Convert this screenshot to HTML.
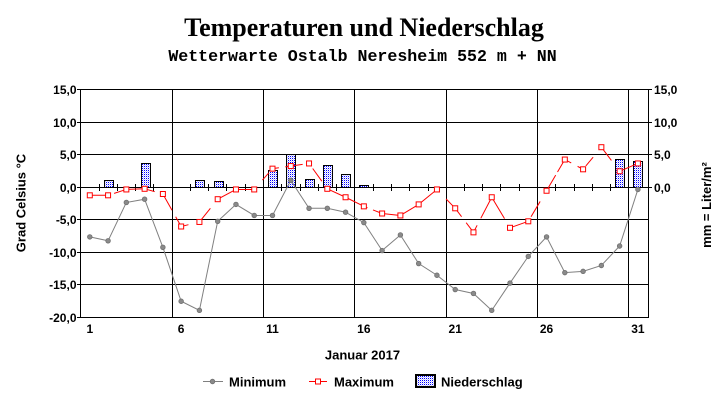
<!DOCTYPE html>
<html><head><meta charset="utf-8"><style>
html,body{margin:0;padding:0;background:#fff;width:727px;height:404px;overflow:hidden}
svg{display:block}
.t{font-family:"Liberation Sans",Arial,sans-serif;font-weight:bold;font-size:12px;fill:#000}
.l{font-family:"Liberation Sans",Arial,sans-serif;font-weight:bold;font-size:13px;fill:#000}
</style></head><body>
<svg width="727" height="404" viewBox="0 0 727 404" xmlns="http://www.w3.org/2000/svg">
<defs>
<pattern id="dots" x="0" y="0" width="2" height="2" patternUnits="userSpaceOnUse">
<rect width="2" height="2" fill="#fff"/><rect x="0" y="0" width="1" height="1" fill="#0000ff"/><rect x="1" y="1" width="1" height="1" fill="#c8c8ff"/>
</pattern>
</defs>
<rect width="727" height="404" fill="#fff"/>
<text x="364" y="36" text-anchor="middle" style="font-family:'Liberation Serif','Times New Roman',serif;font-weight:bold;font-size:26px">Temperaturen und Niederschlag</text>
<text x="362.5" y="61" text-anchor="middle" style="font-family:'Liberation Mono','Courier New',monospace;font-weight:bold;font-size:16.6px">Wetterwarte Ostalb Neresheim 552 m + NN</text>

<g stroke="#000" stroke-width="1" shape-rendering="crispEdges">
<line x1="77" y1="89.5" x2="648" y2="89.5"/>
<line x1="77" y1="122.5" x2="648" y2="122.5"/>
<line x1="77" y1="154.5" x2="648" y2="154.5"/>
<line x1="77" y1="187.5" x2="648" y2="187.5"/>
<line x1="77" y1="219.5" x2="648" y2="219.5"/>
<line x1="77" y1="252.5" x2="648" y2="252.5"/>
<line x1="77" y1="284.5" x2="648" y2="284.5"/>
<line x1="77" y1="317.5" x2="648" y2="317.5"/>
<line x1="648" y1="89.5" x2="652" y2="89.5"/>
<line x1="648" y1="122.5" x2="652" y2="122.5"/>
<line x1="648" y1="154.5" x2="652" y2="154.5"/>
<line x1="648" y1="187.5" x2="652" y2="187.5"/>
<line x1="80.5" y1="89" x2="80.5" y2="318"/>
<line x1="648.5" y1="89" x2="648.5" y2="318"/>
<line x1="172.5" y1="89" x2="172.5" y2="318"/>
<line x1="263.5" y1="89" x2="263.5" y2="318"/>
<line x1="354.5" y1="89" x2="354.5" y2="318"/>
<line x1="446.5" y1="89" x2="446.5" y2="318"/>
<line x1="537.5" y1="89" x2="537.5" y2="318"/>
<line x1="628.5" y1="89" x2="628.5" y2="318"/>
</g>
<g stroke="#000" stroke-width="1" shape-rendering="crispEdges">
<line x1="99.5" y1="184" x2="99.5" y2="191"/><line x1="117.5" y1="184" x2="117.5" y2="191"/><line x1="135.5" y1="184" x2="135.5" y2="191"/><line x1="153.5" y1="184" x2="153.5" y2="191"/>
<line x1="190.5" y1="184" x2="190.5" y2="191"/><line x1="208.5" y1="184" x2="208.5" y2="191"/><line x1="226.5" y1="184" x2="226.5" y2="191"/><line x1="245.5" y1="184" x2="245.5" y2="191"/>
<line x1="281.5" y1="184" x2="281.5" y2="191"/><line x1="300.5" y1="184" x2="300.5" y2="191"/><line x1="318.5" y1="184" x2="318.5" y2="191"/><line x1="336.5" y1="184" x2="336.5" y2="191"/>
<line x1="373.5" y1="184" x2="373.5" y2="191"/><line x1="391.5" y1="184" x2="391.5" y2="191"/><line x1="409.5" y1="184" x2="409.5" y2="191"/><line x1="428.5" y1="184" x2="428.5" y2="191"/>
<line x1="464.5" y1="184" x2="464.5" y2="191"/><line x1="482.5" y1="184" x2="482.5" y2="191"/><line x1="500.5" y1="184" x2="500.5" y2="191"/><line x1="519.5" y1="184" x2="519.5" y2="191"/>
<line x1="555.5" y1="184" x2="555.5" y2="191"/><line x1="574.5" y1="184" x2="574.5" y2="191"/><line x1="592.5" y1="184" x2="592.5" y2="191"/><line x1="610.5" y1="184" x2="610.5" y2="191"/>
</g>

<g fill="url(#dots)" stroke="#000" stroke-width="1" shape-rendering="crispEdges">
<rect x="104.5" y="180.5" width="9" height="7"/>
<rect x="141.5" y="163.5" width="9" height="24"/>
<rect x="195.5" y="180.5" width="9" height="7"/>
<rect x="214.5" y="181.5" width="9" height="6"/>
<rect x="268.5" y="170.5" width="9" height="17"/>
<rect x="286.5" y="154.5" width="9" height="33"/>
<rect x="305.5" y="179.5" width="9" height="8"/>
<rect x="323.5" y="165.5" width="9" height="22"/>
<rect x="341.5" y="174.5" width="9" height="13"/>
<rect x="359.5" y="185.5" width="9" height="2"/>
<rect x="615.5" y="159.5" width="9" height="28"/>
<rect x="633.5" y="161.5" width="9" height="26"/>
</g>

<polyline fill="none" stroke="#808080" stroke-width="1" points="89.8,236.9 108.07,240.8 126.34,202.45 144.61,199.2 162.88,247.3 181.15,301.25 199.42,310.35 217.69,221.3 235.96,204.4 254.23,215.45 272.5,215.45 290.77,180.35 309.04,208.3 327.31,208.3 345.58,212.2 363.85,222.6 382.12,250.55 400.39,234.95 418.66,263.55 436.93,275.25 455.2,289.55 473.47,293.45 491.74,310.35 510.01,283.05 528.28,256.4 546.55,236.9 564.82,272.65 583.09,271.35 601.36,265.5 619.63,246 637.9,189.45"/>
<g fill="#8a8a8a" stroke="#707070" stroke-width="0.8">
<circle cx="89.8" cy="236.9" r="2.3"/><circle cx="108.07" cy="240.8" r="2.3"/><circle cx="126.34" cy="202.45" r="2.3"/><circle cx="144.61" cy="199.2" r="2.3"/><circle cx="162.88" cy="247.3" r="2.3"/><circle cx="181.15" cy="301.25" r="2.3"/><circle cx="199.42" cy="310.35" r="2.3"/><circle cx="217.69" cy="221.3" r="2.3"/><circle cx="235.96" cy="204.4" r="2.3"/><circle cx="254.23" cy="215.45" r="2.3"/><circle cx="272.5" cy="215.45" r="2.3"/><circle cx="290.77" cy="180.35" r="2.3"/><circle cx="309.04" cy="208.3" r="2.3"/><circle cx="327.31" cy="208.3" r="2.3"/><circle cx="345.58" cy="212.2" r="2.3"/><circle cx="363.85" cy="222.6" r="2.3"/><circle cx="382.12" cy="250.55" r="2.3"/><circle cx="400.39" cy="234.95" r="2.3"/><circle cx="418.66" cy="263.55" r="2.3"/><circle cx="436.93" cy="275.25" r="2.3"/><circle cx="455.2" cy="289.55" r="2.3"/><circle cx="473.47" cy="293.45" r="2.3"/><circle cx="491.74" cy="310.35" r="2.3"/><circle cx="510.01" cy="283.05" r="2.3"/><circle cx="528.28" cy="256.4" r="2.3"/><circle cx="546.55" cy="236.9" r="2.3"/><circle cx="564.82" cy="272.65" r="2.3"/><circle cx="583.09" cy="271.35" r="2.3"/><circle cx="601.36" cy="265.5" r="2.3"/><circle cx="619.63" cy="246" r="2.3"/><circle cx="637.9" cy="189.45" r="2.3"/>
</g>

<g stroke="#ff0000" stroke-width="1" fill="none">
<line pathLength="100" x1="89.8" y1="195.3" x2="108.07" y2="195.3"/>
<line pathLength="100" stroke-dasharray="0 33 67" x1="108.07" y1="195.3" x2="126.34" y2="189.45"/>
<line pathLength="100" x1="126.34" y1="189.45" x2="144.61" y2="188.8"/>
<line pathLength="100" stroke-dasharray="55 45" x1="144.61" y1="188.8" x2="162.88" y2="194"/>
<line pathLength="100" stroke-dasharray="50 20 30" x1="162.88" y1="194" x2="181.15" y2="226.5"/>
<line pathLength="100" stroke-dasharray="40 45 15" x1="181.15" y1="226.5" x2="199.42" y2="221.95"/>
<line pathLength="100" stroke-dasharray="0 10 50 40" x1="199.42" y1="221.95" x2="217.69" y2="199.2"/>
<line pathLength="100" x1="217.69" y1="199.2" x2="235.96" y2="189.45"/>
<line pathLength="100" x1="235.96" y1="189.45" x2="254.23" y2="189.45"/>
<line pathLength="100" stroke-dasharray="0 45 35 20" x1="254.23" y1="189.45" x2="272.5" y2="168.65"/>
<line pathLength="100" stroke-dasharray="35 35 30" x1="272.5" y1="168.65" x2="290.77" y2="166.05"/>
<line pathLength="100" stroke-dasharray="65 35" x1="290.77" y1="166.05" x2="309.04" y2="163.45"/>
<line pathLength="100" stroke-dasharray="0 20 50 30" x1="309.04" y1="163.45" x2="327.31" y2="188.8"/>
<line pathLength="100" x1="327.31" y1="188.8" x2="345.58" y2="197.25"/>
<line pathLength="100" x1="345.58" y1="197.25" x2="363.85" y2="206.35"/>
<line pathLength="100" stroke-dasharray="20 30 50" x1="363.85" y1="206.35" x2="382.12" y2="213.5"/>
<line pathLength="100" x1="382.12" y1="213.5" x2="400.39" y2="215.45"/>
<line pathLength="100" x1="400.39" y1="215.45" x2="418.66" y2="204.4"/>
<line pathLength="100" x1="418.66" y1="204.4" x2="436.93" y2="189.45"/>
<line pathLength="100" stroke-dasharray="15 35 50" x1="436.93" y1="189.45" x2="455.2" y2="208.3"/>
<line pathLength="100" stroke-dasharray="35 25 40" x1="455.2" y1="208.3" x2="473.47" y2="232.35"/>
<line pathLength="100" stroke-dasharray="20 20 60" x1="473.47" y1="232.35" x2="491.74" y2="197.25"/>
<line pathLength="100" stroke-dasharray="70 30" x1="491.74" y1="197.25" x2="510.01" y2="227.8"/>
<line pathLength="100" x1="510.01" y1="227.8" x2="528.28" y2="221.3"/>
<line pathLength="100" stroke-dasharray="0 15 50 35" x1="528.28" y1="221.3" x2="546.55" y2="190.75"/>
<line pathLength="100" stroke-dasharray="50 10 40" x1="546.55" y1="190.75" x2="564.82" y2="159.55"/>
<line pathLength="100" stroke-dasharray="35 35 30" x1="564.82" y1="159.55" x2="583.09" y2="169.3"/>
<line pathLength="100" stroke-dasharray="0 15 40 45" x1="583.09" y1="169.3" x2="601.36" y2="147.2"/>
<line pathLength="100" stroke-dasharray="55 45" x1="601.36" y1="147.2" x2="619.63" y2="171.25"/>
<line pathLength="100" x1="619.63" y1="171.25" x2="637.9" y2="163.45"/>
</g>
<g fill="#fff" stroke="#ff0000" stroke-width="1">
<rect x="87.3" y="192.8" width="5" height="5"/><rect x="105.57" y="192.8" width="5" height="5"/><rect x="123.84" y="186.95" width="5" height="5"/><rect x="142.11" y="186.3" width="5" height="5"/><rect x="160.38" y="191.5" width="5" height="5"/><rect x="178.65" y="224" width="5" height="5"/><rect x="196.92" y="219.45" width="5" height="5"/><rect x="215.19" y="196.7" width="5" height="5"/><rect x="233.46" y="186.95" width="5" height="5"/><rect x="251.73" y="186.95" width="5" height="5"/><rect x="270" y="166.15" width="5" height="5"/><rect x="288.27" y="163.55" width="5" height="5"/><rect x="306.54" y="160.95" width="5" height="5"/><rect x="324.81" y="186.3" width="5" height="5"/><rect x="343.08" y="194.75" width="5" height="5"/><rect x="361.35" y="203.85" width="5" height="5"/><rect x="379.62" y="211" width="5" height="5"/><rect x="397.89" y="212.95" width="5" height="5"/><rect x="416.16" y="201.9" width="5" height="5"/><rect x="434.43" y="186.95" width="5" height="5"/><rect x="452.7" y="205.8" width="5" height="5"/><rect x="470.97" y="229.85" width="5" height="5"/><rect x="489.24" y="194.75" width="5" height="5"/><rect x="507.51" y="225.3" width="5" height="5"/><rect x="525.78" y="218.8" width="5" height="5"/><rect x="544.05" y="188.25" width="5" height="5"/><rect x="562.32" y="157.05" width="5" height="5"/><rect x="580.59" y="166.8" width="5" height="5"/><rect x="598.86" y="144.7" width="5" height="5"/><rect x="617.13" y="168.75" width="5" height="5"/><rect x="635.4" y="160.95" width="5" height="5"/>
</g>

<g class="t" text-anchor="end">
<text x="76.5" y="94">15,0</text>
<text x="76.5" y="127">10,0</text>
<text x="76.5" y="159">5,0</text>
<text x="76.5" y="192">0,0</text>
<text x="76.5" y="224">-5,0</text>
<text x="76.5" y="257">-10,0</text>
<text x="76.5" y="289">-15,0</text>
<text x="76.5" y="322">-20,0</text>
</g>
<g class="t" text-anchor="start">
<text x="654" y="94">15,0</text>
<text x="654" y="127">10,0</text>
<text x="654" y="159">5,0</text>
<text x="654" y="192">0,0</text>
</g>
<g class="t" text-anchor="middle">
<text x="89.8" y="333">1</text>
<text x="181.15" y="333">6</text>
<text x="272.5" y="333">11</text>
<text x="363.85" y="333">16</text>
<text x="455.2" y="333">21</text>
<text x="546.55" y="333">26</text>
<text x="637.9" y="333">31</text>
</g>
<text class="l" x="25.5" y="203" text-anchor="middle" transform="rotate(-90 25.5 203)">Grad Celsius °C</text>
<text class="l" x="711" y="205" text-anchor="middle" transform="rotate(-90 711 205)">mm = Liter/m²</text>
<text class="l" x="362.5" y="359.5" text-anchor="middle">Januar 2017</text>

<line x1="203" y1="381.5" x2="223" y2="381.5" stroke="#808080" stroke-width="1"/>
<circle cx="212.5" cy="381.5" r="2.3" fill="#8a8a8a" stroke="#707070" stroke-width="0.8"/>
<text class="l" x="229" y="386.5">Minimum</text>
<line x1="309" y1="381.5" x2="327" y2="381.5" stroke="#ff0000" stroke-width="1"/>
<rect x="315.5" y="379" width="5" height="5" fill="#fff" stroke="#ff0000" stroke-width="1"/>
<text class="l" x="334" y="386.5">Maximum</text>
<rect x="416" y="375" width="19" height="12" fill="url(#dots)" stroke="#000" stroke-width="2" shape-rendering="crispEdges"/>
<text class="l" x="441" y="386.5">Niederschlag</text>
</svg>
</body></html>
